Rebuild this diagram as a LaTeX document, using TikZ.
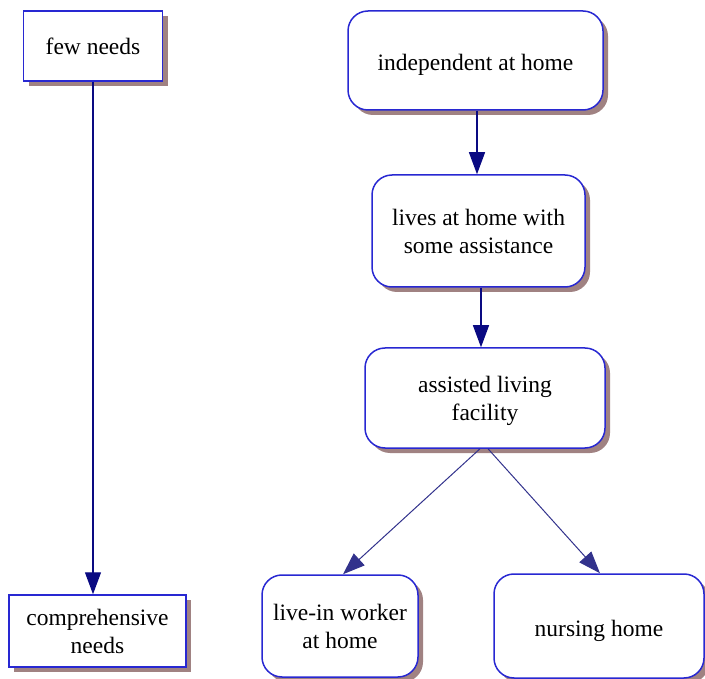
\documentclass[tikz,border=0pt]{standalone}
\usepackage{fontspec}
\setmainfont{Liberation Serif}
\usetikzlibrary{arrows.meta,shadows}
\definecolor{bordc}{RGB}{40,40,210}
\definecolor{arrc}{RGB}{10,10,130}
\definecolor{diagc}{RGB}{50,50,140}
\definecolor{shadc}{RGB}{160,130,130}
\begin{document}
\begin{tikzpicture}[x=1pt,y=-1pt,
  boxbase/.style={draw=bordc, line width=1.5pt, fill=white, align=center,
    font=\fontsize{23.5}{28}\selectfont, inner sep=0pt, text depth=0pt,
    drop shadow={shadow xshift=5pt, shadow yshift=-5pt, fill=shadc, opacity=1}},
  sqbox/.style={boxbase},
  rdbox/.style={boxbase, rounded corners=20pt},
  lowtext/.style={text height=21pt},
  arr/.style={draw=arrc, line width=1.3pt, -{Triangle[length=22pt,width=16pt]}},
  thinarr/.style={draw=diagc, line width=1pt, -{Triangle[length=22pt,width=16pt]}}]
\useasboundingbox (0,0) rectangle (705,679);
\node[sqbox, minimum width=139pt, minimum height=70pt] (few) at (93,46) {few needs};
\node[sqbox, minimum width=177pt, minimum height=72pt] (comp) at (97.5,631) {comprehensive\\needs};
\node[rdbox, lowtext, minimum width=255pt, minimum height=99pt] (ind) at (475.5,60.5) {independent at home};
\node[rdbox, minimum width=213pt, minimum height=112pt] (lives) at (478.5,231) {lives at home with\\some assistance};
\node[rdbox, minimum width=240pt, minimum height=100pt] (asl) at (485,398) {assisted living\\facility};
\node[rdbox, minimum width=156pt, minimum height=102pt] (live) at (340,626) {live-in worker\\at home};
\node[rdbox, lowtext, minimum width=210pt, minimum height=104pt] (nurs) at (599,626) {nursing home};
\draw[arr] (few.south) -- (comp.north -| few.south);
\draw[arr] ([xshift=1.5pt]ind.south) -- ([xshift=-1.5pt]lives.north);
\draw[arr] ([xshift=2.5pt]lives.south) -- ([xshift=-4pt]asl.north);
\draw[thinarr] ([xshift=-5pt]asl.south) -- ([xshift=3pt]live.north);
\draw[thinarr] ([xshift=3pt]asl.south) -- ([xshift=1pt]nurs.north);
\end{tikzpicture}
\end{document}
